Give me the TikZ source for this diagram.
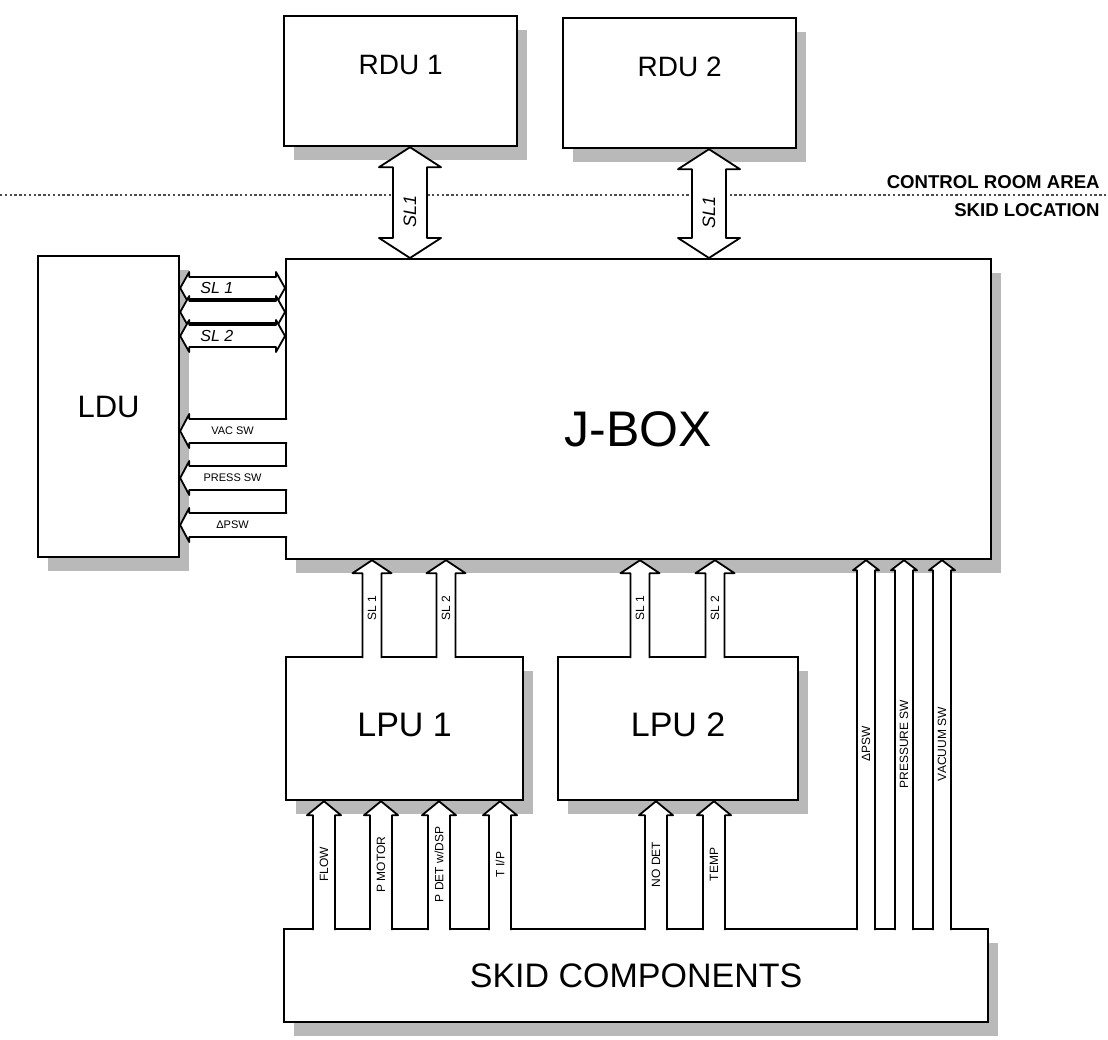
\documentclass[tikz,border=0pt]{standalone}
\usepackage{fontspec}
\setmainfont{Liberation Sans}
\usetikzlibrary{calc,shadows}

\begin{document}
\begin{tikzpicture}[
    x=0.5pt, y=-0.5pt,
    unit/.style={draw, fill=white, line width=1.1pt, anchor=north west, inner sep=0pt,
      drop shadow={shadow xshift=5pt, shadow yshift=-7pt, fill=gray!55, opacity=1}},
    fat w/.store in=\fatw, fat h/.store in=\fath, fat l/.store in=\fatl,
    fat w=5pt, fat h=9pt, fat l=7pt,
    fatone/.style={draw, fill=white, line width=0.9pt, line join=round, to path={
      ($(\tikztotarget)!\fatl!(\tikztostart)$) coordinate (fb)
      ($(\tikztostart)!\fatw!90:(\tikztotarget)$)
      -- ($(fb)!\fatw!90:(\tikztotarget)$) -- ($(fb)!\fath!90:(\tikztotarget)$)
      -- (\tikztotarget)
      -- ($(fb)!\fath!-90:(\tikztotarget)$) -- ($(fb)!\fatw!-90:(\tikztotarget)$)
      -- ($(\tikztostart)!\fatw!-90:(\tikztotarget)$)}},
    fatboth/.style={draw, fill=white, line width=0.9pt, line join=round, to path={
      ($(\tikztostart)!\fatl!(\tikztotarget)$) coordinate (fa)
      ($(\tikztotarget)!\fatl!(\tikztostart)$) coordinate (fb)
      (\tikztostart)
      -- ($(fa)!\fath!90:(\tikztotarget)$) -- ($(fa)!\fatw!90:(\tikztotarget)$)
      -- ($(fb)!\fatw!90:(\tikztotarget)$) -- ($(fb)!\fath!90:(\tikztotarget)$)
      -- (\tikztotarget)
      -- ($(fb)!\fath!-90:(\tikztotarget)$) -- ($(fb)!\fatw!-90:(\tikztotarget)$)
      -- ($(fa)!\fatw!-90:(\tikztotarget)$) -- ($(fa)!\fath!-90:(\tikztotarget)$)
      -- cycle}},
    tag/.style={rotate=90, inner sep=0pt, font=\fontsize{6}{6}\selectfont},
    hand/.style={inner sep=0pt, font=\itshape\fontsize{8}{8}\selectfont},
    area/.style={font=\bfseries\fontsize{9.3}{10}\selectfont, inner sep=1pt}
]
\useasboundingbox[fill=white] (0,0) rectangle (1108,1039);

% ---------- boxes ----------
\node[unit, minimum width=116.5pt, minimum height=65pt, text depth=16pt,
      font=\fontsize{14}{14}\selectfont] (rdu1) at (283,15) {RDU 1};
\node[unit, minimum width=116.5pt, minimum height=65pt, text depth=16pt,
      font=\fontsize{14}{14}\selectfont] (rdu2) at (562,17) {RDU 2};
\node[unit, minimum width=352.5pt, minimum height=150pt, text height=38pt,
      font=\fontsize{25}{25}\selectfont] (jbox) at (285,258) {J-BOX};
\node[unit, minimum width=70.5pt, minimum height=150.5pt,
      font=\fontsize{15.5}{16}\selectfont] (ldu) at (37,255) {LDU};
\node[unit, minimum width=118.5pt, minimum height=71.5pt, text depth=4pt,
      font=\fontsize{17}{17}\selectfont] (lpu1) at (285,656) {LPU 1};
\node[unit, minimum width=120pt, minimum height=71.5pt, text depth=4pt,
      font=\fontsize{17}{17}\selectfont] (lpu2) at (557,656) {LPU 2};
\node[unit, minimum width=352pt, minimum height=46.5pt,
      font=\fontsize{17}{17}\selectfont] (skid) at (283,928) {SKID COMPONENTS};

% ---------- area boundary ----------
\coordinate (bndw) at (0,195);
\coordinate (bnde) at (1108,195);
\draw[gray!60!black, line width=0.8pt, dash pattern=on 1.2pt off 1.2pt] (bndw) -- (bnde);
\node[area, anchor=south east] (ctrl) at (1102,191) {CONTROL ROOM AREA};
\node[area, anchor=north east] (loc) at (1102,201) {SKID LOCATION};

% ---------- RDU links ----------
\foreach \cx/\rdu in {410/rdu1, 709/rdu2} {
  \coordinate (col) at (\cx,0);
  \draw[fatboth, fat w=8.5pt, fat h=15.5pt, fat l=10pt] (\rdu.south -| col) to (jbox.north -| col);
  \path (\rdu.south -| col) -- node[hand, rotate=90, pos=0.58, font=\itshape\fontsize{9}{9}\selectfont]{SL1} (jbox.north -| col);
}

% ---------- LDU links ----------
\foreach \ry/\txt in {288/{SL 1}, 312/{}, 336/{SL 2}} {
  \coordinate (row) at (0,\ry);
  \draw[fatboth, fat w=5.5pt, fat h=8pt, fat l=4.5pt] (ldu.east |- row) to (jbox.west |- row);
  \path (ldu.east |- row) -- node[hand, pos=0.35]{\txt} (jbox.west |- row);
}
\foreach \ry/\txt in {431/{VAC SW}, 478/{PRESS SW}, 525/{ΔPSW}} {
  \coordinate (row) at (0,\ry);
  \draw[fatone, fat w=6pt, fat h=8.5pt, fat l=4.5pt] ([xshift=1pt]jbox.west |- row) to (ldu.east |- row);
  \path (ldu.east |- row) -- node[inner sep=0pt, font=\fontsize{5.5}{6}\selectfont]{\txt} (jbox.west |- row);
}

% ---------- LPU to J-BOX ----------
\foreach \cx/\lpu/\txt in {372/lpu1/{SL 1}, 446/lpu1/{SL 2}, 640/lpu2/{SL 1}, 715/lpu2/{SL 2}} {
  \coordinate (col) at (\cx,0);
  \draw[fatone, fat w=4.75pt, fat h=9.75pt, fat l=6.5pt] ([yshift=-1pt]\lpu.north -| col) to (jbox.south -| col);
  \path (\lpu.north -| col) -- node[tag, pos=0.5]{\txt} (jbox.south -| col);
}

% ---------- skid to LPUs ----------
\foreach \cx/\lpu/\txt in {324/lpu1/FLOW, 381/lpu1/{P MOTOR}, 439/lpu1/{P DET w/DSP},
                          500/lpu1/{T I/P}, 656/lpu2/{NO DET}, 714/lpu2/TEMP} {
  \coordinate (col) at (\cx,0);
  \draw[fatone, fat w=5.5pt, fat h=8.5pt, fat l=7pt] ([yshift=-1pt]skid.north -| col) to (\lpu.south -| col);
  \path (skid.north -| col) -- node[tag, pos=0.5]{\txt} (\lpu.south -| col);
}

% ---------- skid straight to J-BOX ----------
\foreach \cx/\txt in {866/ΔPSW, 904/{PRESSURE SW}, 942/{VACUUM SW}} {
  \coordinate (col) at (\cx,0);
  \draw[fatone, fat w=4.5pt, fat h=6.5pt, fat l=5pt] ([yshift=-1pt]skid.north -| col) to (jbox.south -| col);
  \path (skid.north -| col) -- node[tag, pos=0.5]{\txt} (jbox.south -| col);
}

\end{tikzpicture}
\end{document}
